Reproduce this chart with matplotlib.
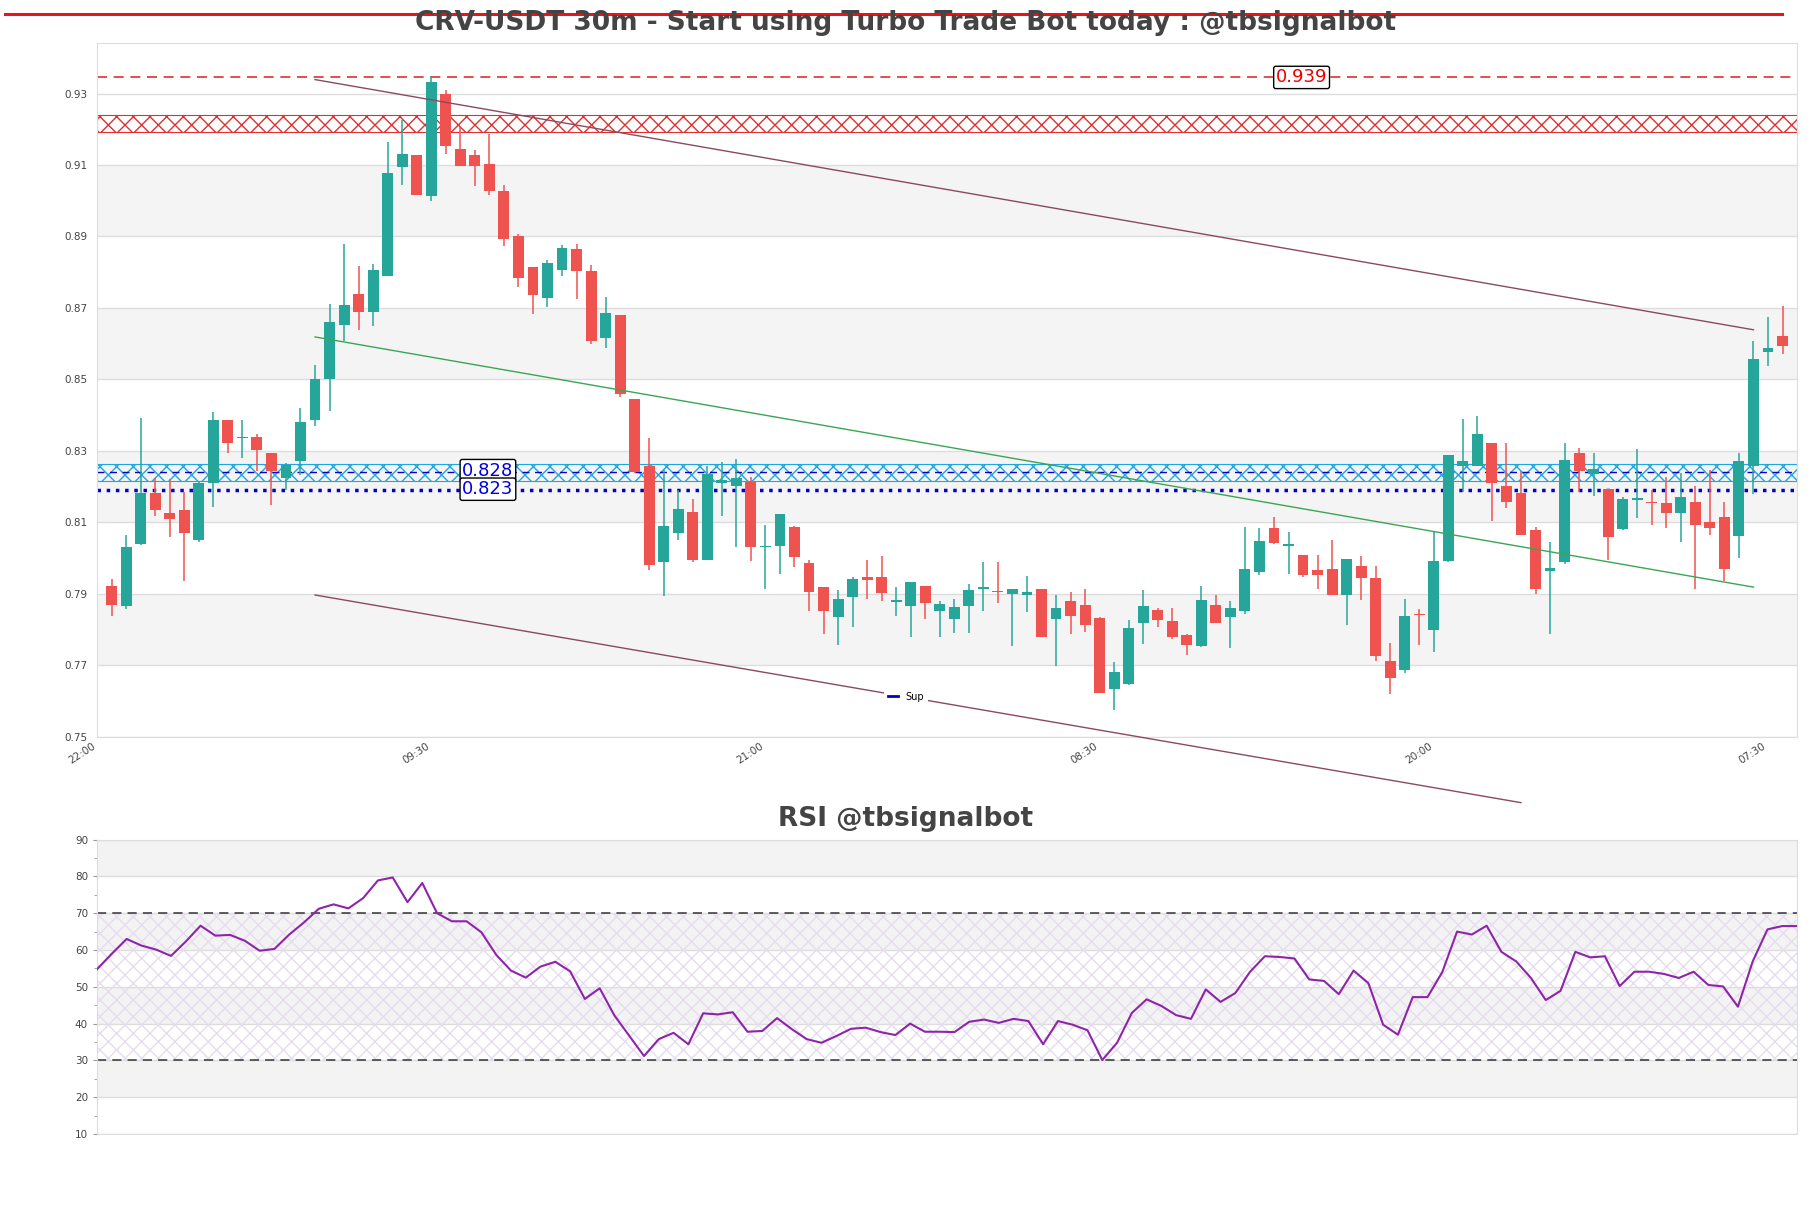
import matplotlib
matplotlib.use("Agg")
import matplotlib.pyplot as plt
import numpy as np
from matplotlib.lines import Line2D

# Data candle CRV-USDT 30m
opens = [0.7923, 0.7865, 0.8041, 0.8181, 0.8125, 0.8136, 0.8052, 0.8209, 0.8386, 0.8335,
         0.8340, 0.8295, 0.8225, 0.8272, 0.8387, 0.8501, 0.8653, 0.8739, 0.8690, 0.8789,
         0.9094, 0.9129, 0.9013, 0.9300, 0.9146, 0.9127, 0.9104, 0.9027, 0.8901, 0.8814,
         0.8727, 0.8807, 0.8866, 0.8804, 0.8617, 0.8681, 0.8445, 0.8257, 0.7988, 0.8071,
         0.8129, 0.7994, 0.8209, 0.8203, 0.8214, 0.8030, 0.8035, 0.8086, 0.7986, 0.7918,
         0.7836, 0.7890, 0.7948, 0.7948, 0.7878, 0.7867, 0.7922, 0.7852, 0.7831, 0.7867,
         0.7914, 0.7906, 0.7900, 0.7897, 0.7913, 0.7829, 0.7879, 0.7868, 0.7832, 0.7635,
         0.7648, 0.7820, 0.7855, 0.7825, 0.7784, 0.7754, 0.7868, 0.7835, 0.7852, 0.7962,
         0.8084, 0.8033, 0.8010, 0.7966, 0.7971, 0.7897, 0.7977, 0.7945, 0.7713, 0.7687,
         0.7842, 0.7799, 0.7992, 0.8258, 0.8257, 0.8321, 0.8203, 0.8181, 0.8078, 0.7964,
         0.7989, 0.8295, 0.8236, 0.8193, 0.8082, 0.8163, 0.8155, 0.8154, 0.8125, 0.8158,
         0.8102, 0.8115, 0.8061, 0.8257, 0.8578, 0.8621]
highs = [0.7943, 0.8066, 0.8393, 0.8225, 0.8222, 0.8186, 0.8215, 0.8409, 0.8386, 0.8386,
         0.8347, 0.8295, 0.8266, 0.8421, 0.8540, 0.8711, 0.8879, 0.8817, 0.8823, 0.9163,
         0.9227, 0.9129, 0.9350, 0.9309, 0.9205, 0.9141, 0.9188, 0.9043, 0.8907, 0.8814,
         0.8835, 0.8875, 0.8880, 0.8820, 0.8732, 0.8681, 0.8445, 0.8337, 0.8246, 0.8190,
         0.8166, 0.8257, 0.8270, 0.8278, 0.8227, 0.8094, 0.8123, 0.8090, 0.7994, 0.7918,
         0.7911, 0.7948, 0.7996, 0.8007, 0.7919, 0.7932, 0.7922, 0.7879, 0.7887, 0.7927,
         0.7990, 0.7990, 0.7914, 0.7949, 0.7913, 0.7896, 0.7905, 0.7913, 0.7836, 0.7709,
         0.7826, 0.7910, 0.7861, 0.7861, 0.7789, 0.7922, 0.7896, 0.7879, 0.8087, 0.8084,
         0.8115, 0.8074, 0.8010, 0.8010, 0.8051, 0.7997, 0.8007, 0.7977, 0.7764, 0.7887,
         0.7857, 0.8074, 0.8290, 0.8390, 0.8398, 0.8321, 0.8321, 0.8243, 0.8087, 0.8044,
         0.8321, 0.8307, 0.8294, 0.8193, 0.8170, 0.8305, 0.8191, 0.8228, 0.8238, 0.8201,
         0.8248, 0.8156, 0.8294, 0.8608, 0.8675, 0.8706]
lows = [0.7838, 0.7859, 0.8038, 0.8118, 0.8060, 0.7937, 0.8046, 0.8144, 0.8295, 0.8281,
        0.8244, 0.8149, 0.8191, 0.8232, 0.8370, 0.8412, 0.8608, 0.8639, 0.8649, 0.8789,
        0.9045, 0.9015, 0.8998, 0.9132, 0.9097, 0.9041, 0.9017, 0.8872, 0.8760, 0.8683,
        0.8704, 0.8790, 0.8724, 0.8600, 0.8588, 0.8450, 0.8238, 0.7967, 0.7895, 0.8051,
        0.7990, 0.7994, 0.8118, 0.8031, 0.7991, 0.7914, 0.7956, 0.7975, 0.7852, 0.7788,
        0.7757, 0.7808, 0.7887, 0.7879, 0.7839, 0.7779, 0.7831, 0.7779, 0.7792, 0.7790,
        0.7852, 0.7874, 0.7754, 0.7848, 0.7779, 0.7697, 0.7789, 0.7793, 0.7624, 0.7574,
        0.7646, 0.7761, 0.7807, 0.7774, 0.7728, 0.7752, 0.7819, 0.7749, 0.7843, 0.7952,
        0.8040, 0.7955, 0.7946, 0.7913, 0.7897, 0.7812, 0.7883, 0.7713, 0.7619, 0.7680,
        0.7758, 0.7737, 0.7990, 0.8186, 0.8257, 0.8104, 0.8139, 0.8064, 0.7901, 0.7788,
        0.7984, 0.8184, 0.8175, 0.7995, 0.8080, 0.8113, 0.8094, 0.8085, 0.8045, 0.7913,
        0.8066, 0.7936, 0.8000, 0.8180, 0.8538, 0.8572]
closes = [0.7868, 0.8032, 0.8181, 0.8135, 0.8110, 0.8071, 0.8209, 0.8386, 0.8323, 0.8338,
          0.8303, 0.8244, 0.8260, 0.8382, 0.8501, 0.8660, 0.8708, 0.8690, 0.8807, 0.9079,
          0.9132, 0.9015, 0.9331, 0.9152, 0.9097, 0.9097, 0.9026, 0.8892, 0.8783, 0.8735,
          0.8826, 0.8868, 0.8804, 0.8608, 0.8687, 0.8458, 0.8241, 0.7980, 0.8090, 0.8137,
          0.7994, 0.8235, 0.8219, 0.8225, 0.8031, 0.8032, 0.8123, 0.8004, 0.7906, 0.7852,
          0.7887, 0.7943, 0.7940, 0.7903, 0.7880, 0.7932, 0.7874, 0.7871, 0.7863, 0.7911,
          0.7919, 0.7904, 0.7914, 0.7906, 0.7779, 0.7861, 0.7839, 0.7812, 0.7624, 0.7681,
          0.7806, 0.7865, 0.7826, 0.7779, 0.7758, 0.7884, 0.7819, 0.7861, 0.7971, 0.8047,
          0.8042, 0.8039, 0.7952, 0.7952, 0.7897, 0.7997, 0.7945, 0.7726, 0.7665, 0.7838,
          0.7841, 0.7992, 0.8288, 0.8271, 0.8347, 0.8209, 0.8158, 0.8066, 0.7915, 0.7973,
          0.8276, 0.8244, 0.8250, 0.8060, 0.8165, 0.8166, 0.8153, 0.8127, 0.8171, 0.8093,
          0.8085, 0.7970, 0.8271, 0.8557, 0.8588, 0.8594]

# Nilai RSI
rsi = [54.8, 59.0, 63.0, 61.2, 60.1, 58.4, 62.3, 66.6, 63.9, 64.1,
       62.5, 59.8, 60.3, 64.2, 67.5, 71.2, 72.4, 71.3, 74.1, 78.9,
       79.7, 73.0, 78.2, 70.0, 67.8, 67.8, 64.8, 58.7, 54.4, 52.5,
       55.5, 56.8, 54.2, 46.7, 49.6, 42.2, 36.7, 31.2, 35.8, 37.5,
       34.4, 42.8, 42.5, 43.1, 37.8, 38.0, 41.5, 38.5, 35.8, 34.8,
       36.6, 38.6, 38.9, 37.7, 36.9, 40.0, 37.8, 37.8, 37.7, 40.5,
       41.1, 40.2, 41.3, 40.7, 34.4, 40.7, 39.7, 38.2, 30.1, 34.8,
       42.9, 46.6, 44.8, 42.3, 41.3, 49.3, 45.9, 48.3, 54.1, 58.3,
       58.1, 57.7, 52.0, 51.6, 48.0, 54.4, 51.0, 39.7, 37.0, 47.2,
       47.2, 54.0, 65.0, 64.2, 66.6, 59.5, 56.9, 52.4, 46.4, 48.9,
       59.5, 58.0, 58.3, 50.2, 54.1, 54.1, 53.5, 52.4, 54.1, 50.5,
       50.1, 44.6, 56.9, 65.6, 66.5, 66.5]

# Label waktu pada sumbu x
label_waktu = ["22:00", "09:30", "21:00", "08:30", "20:00", "07:30"]
posisi_waktu = [0, 23, 46, 69, 92, 115]

# Garis tren (x candle, harga)
tren_x = [15, 114]
tren_atas = [0.9339, 0.8639]
tren_tengah = [0.8619, 0.7919]
tren_bawah_x = [15, 98]
tren_bawah = [0.7897, 0.7316]

# Level support / resistance
zona_resisten = (0.9193, 0.9239)
level_atas = 0.9345
zona_support = (0.8215, 0.8263)
garis_support = 0.8240
garis_sup_titik = 0.8191

judul = "CRV-USDT 30m - Start using Turbo Trade Bot today : @tbsignalbot"
judul_rsi = "RSI @tbsignalbot"

HIJAU = "#26a69a"
MERAH = "#ef5350"


def gambar_candle(ax):
    x = np.arange(1, len(opens) + 1)
    o = np.array(opens)
    c = np.array(closes)
    warna = [HIJAU if cc >= oo else MERAH for oo, cc in zip(o, c)]
    ax.vlines(x, lows, highs, colors=warna, lw=1.1, zorder=3)
    tinggi = np.maximum(np.abs(c - o), 0.0004)
    bawah = np.minimum(o, c)
    ax.bar(x, tinggi, bottom=bawah, width=0.75, color=warna, zorder=4)


def gambar_grafik_utama(fig):
    ax = fig.add_axes([0.0536, 0.390, 0.9387, 0.5746])
    ax.set_xlim(0, 117)
    ax.set_ylim(0.75, 0.9442)

    # pita abu-abu selang-seling dan grid horizontal
    for y0 in [0.77, 0.81, 0.85, 0.89]:
        ax.axhspan(y0, y0 + 0.02, color="#f4f4f4", zorder=0, lw=0)
    ax.set_yticks(np.arange(0.75, 0.94, 0.02))
    ax.yaxis.set_major_formatter(matplotlib.ticker.FormatStrFormatter("%.2f"))
    ax.grid(axis="y", color="#dddddd", lw=1, zorder=1)
    ax.set_axisbelow(True)

    # zona resisten dan support
    ax.axhspan(*zona_resisten, facecolor="none", edgecolor="#e03030",
               hatch="xx", lw=0.8, zorder=2)
    ax.axhline(level_atas, color="#e03030", ls="--", lw=1.2, dashes=(6, 4), zorder=2)
    ax.axhspan(*zona_support, facecolor="none", edgecolor="#1ea7e1",
               hatch="xx", lw=0.8, zorder=2)
    ax.axhline(garis_support, color="#0000cc", ls="--", lw=1, dashes=(5, 4), zorder=2)
    ax.axhline(garis_sup_titik, color="#0000cc", ls=":", lw=2.5, zorder=2)

    # garis tren
    ax.plot(tren_x, tren_atas, color="#8a4a62", lw=1, zorder=5)
    ax.plot(tren_x, tren_tengah, color="#3aa655", lw=1, zorder=5)
    ax.plot(tren_bawah_x, tren_bawah, color="#8a4a62", lw=1, zorder=5, clip_on=False)

    gambar_candle(ax)

    # label harga
    kotak = dict(boxstyle="round,pad=0.12", fc="white", ec="black", lw=1)
    ax.text(82.9, level_atas, "0.939", color="#ee0000", fontsize=13,
            ha="center", va="center", bbox=kotak, zorder=6)
    ax.text(26.9, 0.8245, "0.828", color="#0000dd", fontsize=13,
            ha="center", va="center", bbox=kotak, zorder=6)
    ax.text(26.9, 0.8193, "0.823", color="#0000dd", fontsize=13,
            ha="center", va="center", bbox=kotak, zorder=6)

    # legenda
    proxy = Line2D([], [], color="#0000cc", lw=2)
    leg = ax.legend([proxy], ["Sup"], loc="center", bbox_to_anchor=(0.476, 0.058),
                    fontsize=7, facecolor="white", edgecolor="none", framealpha=1,
                    handlelength=1.0)
    leg.set_zorder(7)

    ax.set_xticks(posisi_waktu)
    ax.set_xticklabels(label_waktu)
    plt.setp(ax.get_xticklabels(), rotation=33, ha="right")
    ax.tick_params(axis="both", length=0, labelsize=7.5, colors="#444444")
    ax.tick_params(axis="y", pad=7)
    ax.tick_params(axis="x", pad=3)
    for s in ax.spines.values():
        s.set_color("#dddddd")
    return ax


def gambar_rsi(fig):
    ax2 = fig.add_axes([0.0536, 0.0612, 0.9387, 0.2438])
    x = np.arange(1, len(rsi) + 1)
    ax2.set_xlim(1, len(rsi))
    ax2.set_ylim(10, 90)
    for y0 in [20, 40, 60, 80]:
        ax2.axhspan(y0, y0 + 10, color="#f3f3f4", zorder=0, lw=0)
    ax2.axhspan(30, 70, facecolor="none", edgecolor="#e6dcee", hatch="xx", lw=0, zorder=1)
    ax2.set_yticks(range(10, 91, 10))
    ax2.set_yticks(range(15, 90, 10), minor=True)
    ax2.grid(axis="y", which="major", color="#dddddd", lw=1, zorder=1)
    ax2.set_axisbelow(True)
    ax2.axhline(70, color="#333333", ls="--", lw=1.1, dashes=(6, 4), zorder=2)
    ax2.axhline(30, color="#333333", ls="--", lw=1.1, dashes=(6, 4), zorder=2)
    ax2.plot(x, rsi, color="#8e24aa", lw=1.5, zorder=3)
    ax2.set_xticks([])
    ax2.tick_params(axis="y", which="major", length=3, labelsize=7.5,
                    colors="#999999", labelcolor="#444444")
    ax2.tick_params(axis="y", which="minor", length=2, colors="#999999")
    for s in ax2.spines.values():
        s.set_color("#dddddd")
    return ax2


def main():
    fig = plt.figure(figsize=(18.11, 12.08), dpi=100)
    gambar_grafik_utama(fig)
    gambar_rsi(fig)

    # judul dan garis merah di atas
    fig.add_artist(Line2D([0.003, 0.984], [0.9885, 0.9885], color="#e8141c", lw=2.2))
    fig.text(0.5, 0.981, judul, ha="center", va="center", fontsize=19,
             fontweight="bold", color="#444444")
    fig.text(0.5, 0.3222, judul_rsi, ha="center", va="center", fontsize=19,
             fontweight="bold", color="#444444")

    fig.savefig("out.png", dpi=100, facecolor="white")


if __name__ == "__main__":
    main()
